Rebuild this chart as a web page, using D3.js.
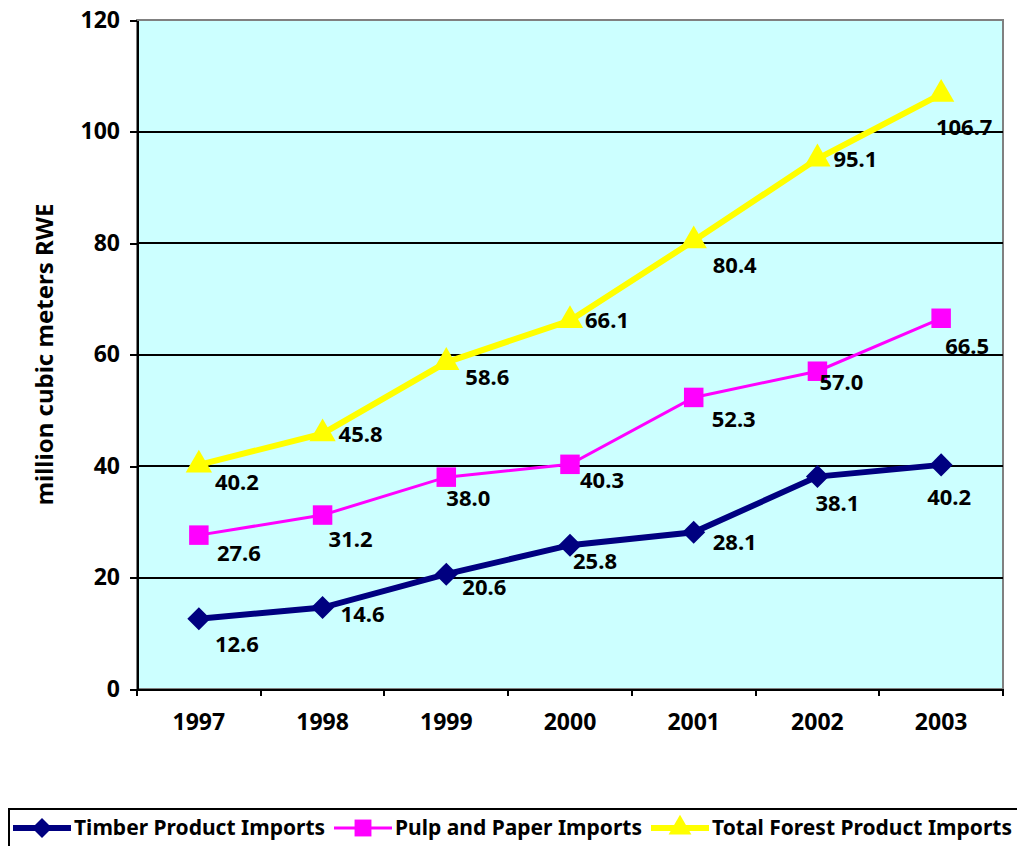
<!DOCTYPE html>
<meta charset="utf-8">
<style>
  body { margin: 0; background: #fff; font-family: 'Noto Sans', sans-serif; }
  text { font-weight: bold; fill: #000; }
  .axis path, .axis line { stroke: #000; stroke-width: 2; shape-rendering: crispEdges; }
  .axis text { font-size: 23px; font-family: 'Noto Sans', sans-serif; }
  .grid line { stroke: #000; stroke-width: 2; shape-rendering: crispEdges; }
  .lbl { font-size: 22px; }
</style>
<body>
<div id="chart"></div>
<script src="https://d3js.org/d3.v7.min.js"></script>
<script>
  // data
  var years = ["1997", "1998", "1999", "2000", "2001", "2002", "2003"];
  var timber = [12.6, 14.6, 20.6, 25.8, 28.1, 38.1, 40.2];
  var pulp = [27.6, 31.2, 38.0, 40.3, 52.3, 57.0, 66.5];
  var total = [40.2, 45.8, 58.6, 66.1, 80.4, 95.1, 106.7];
  var yTicks = [0, 20, 40, 60, 80, 100, 120];

  var series = [
    { name: "Timber Product Imports", values: timber, color: "#000080", width: 6, symbol: d3.symbolSquare, size: 265, rot: 45 },
    { name: "Pulp and Paper Imports", values: pulp, color: "#FF00FF", width: 3, symbol: d3.symbolSquare, size: 380, rot: 0 },
    { name: "Total Forest Product Imports", values: total, color: "#FFFF00", width: 6, symbol: d3.symbolTriangle, size: 300, rot: 0 }
  ];

  // where each value label sits relative to its point (Excel placed them by hand)
  var labelOffsets = [
    [[38, 26], [40, 7], [38, 13], [25, 16], [41, 10], [20, 27], [8, 32]],
    [[40, 18], [28, 24], [22, 21], [32, 16], [40, 22], [24, 11], [26, 28]],
    [[38, 17], [38, 1], [41, 15], [37, 0], [41, 25], [38, 0], [23, 33]]
  ];

  var width = 1017, height = 846;
  var margin = { top: 20, right: 14, bottom: 157, left: 137 };
  var w = width - margin.left - margin.right;
  var h = height - margin.top - margin.bottom;

  var svg = d3.select("#chart").append("svg")
    .attr("width", width)
    .attr("height", height);

  var g = svg.append("g")
    .attr("transform", `translate(${margin.left},${margin.top})`);

  var x = d3.scaleBand().domain(years).range([0, w]);
  var y = d3.scaleLinear().domain([0, 120]).range([h, 0]);

  // plot background
  g.append("rect")
    .attr("width", w)
    .attr("height", h)
    .attr("fill", "#CCFFFF")
    .attr("stroke", "#808080")
    .attr("stroke-width", 2);

  // gridlines
  g.append("g")
    .attr("class", "grid")
    .selectAll("line")
    .data(yTicks.filter(d => d > 0 && d < 120))
    .enter().append("line")
    .attr("x1", 0)
    .attr("x2", w)
    .attr("y1", d => y(d))
    .attr("y2", d => y(d));

  // axes
  var yAxis = d3.axisLeft(y).tickValues(yTicks).tickSize(7).tickPadding(10).tickSizeOuter(0);
  g.append("g").attr("class", "y axis").call(yAxis);

  var xAxis = d3.axisBottom(x).tickSize(0).tickPadding(25).tickSizeOuter(0);
  var xg = g.append("g")
    .attr("class", "x axis")
    .attr("transform", `translate(0,${h})`)
    .call(xAxis);
  // ticks sit between the categories
  xg.selectAll(".sep")
    .data(d3.range(years.length + 1))
    .enter().append("line")
    .attr("class", "sep")
    .attr("x1", i => i * x.step())
    .attr("x2", i => i * x.step())
    .attr("y1", 0)
    .attr("y2", 7);

  // y title
  svg.append("text")
    .attr("transform", `translate(53,${margin.top + h / 2}) rotate(-90)`)
    .attr("text-anchor", "middle")
    .style("font-size", "24px")
    .text("million cubic meters RWE");

  var cx = (d, i) => x(years[i]) + x.bandwidth() / 2;
  var line = d3.line().x(cx).y(d => y(d));

  // draw bottom series last so it sits on top like Excel does
  series.slice().reverse().forEach(function(s) {
    var si = series.indexOf(s);
    var sg = g.append("g");
    sg.append("path")
      .datum(s.values)
      .attr("fill", "none")
      .attr("stroke", s.color)
      .attr("stroke-width", s.width)
      .attr("d", line);
    sg.selectAll("path.pt")
      .data(s.values)
      .enter().append("path")
      .attr("class", "pt")
      .attr("transform", (d, i) => `translate(${cx(d, i)},${y(d)}) rotate(${s.rot})`)
      .attr("d", d3.symbol().type(s.symbol).size(s.size))
      .attr("fill", s.color);
    sg.selectAll("text")
      .data(s.values)
      .enter().append("text")
      .attr("class", "lbl")
      .attr("x", (d, i) => cx(d, i) + labelOffsets[si][i][0])
      .attr("y", (d, i) => y(d) + labelOffsets[si][i][1])
      .attr("text-anchor", "middle")
      .attr("dy", "0.35em")
      .text(d => d.toFixed(1));
  });

  // legend
  var lg = svg.append("g");
  lg.append("rect")
    .attr("x", 9)
    .attr("y", 809)
    .attr("width", 1020)
    .attr("height", 50)
    .attr("fill", "#fff")
    .attr("stroke", "#000")
    .attr("stroke-width", 2);
  var legendX = [13, 334, 651];
  series.forEach(function(s, i) {
    var lx = legendX[i];
    lg.append("line")
      .attr("x1", lx)
      .attr("x2", lx + 58)
      .attr("y1", 828)
      .attr("y2", 828)
      .attr("stroke", s.color)
      .attr("stroke-width", s.width);
    lg.append("path")
      .attr("transform", `translate(${lx + 29},828) rotate(${s.rot})`)
      .attr("d", d3.symbol().type(s.symbol).size(s.size * 0.75))
      .attr("fill", s.color);
    lg.append("text")
      .attr("x", lx + 61)
      .attr("y", 828)
      .attr("dy", "0.35em")
      .style("font-size", "21px")
      .text(s.name);
  });
</script>
</body>
